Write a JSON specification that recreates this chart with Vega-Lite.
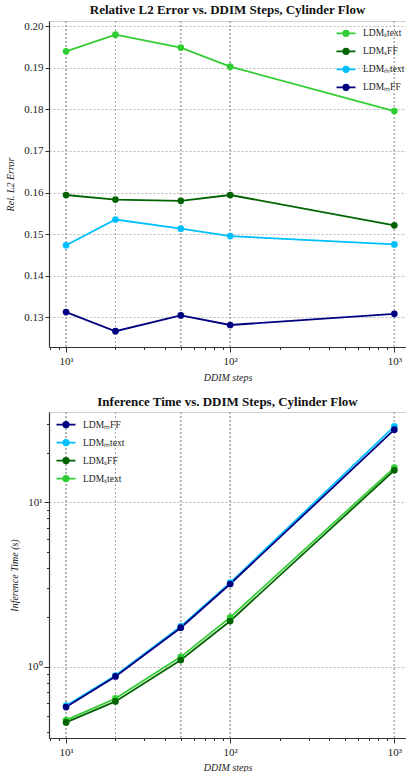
{
  "$schema": "https://vega.github.io/schema/vega-lite/v6.json",
  "autosize": {"type": "pad"},
  "padding": {"left": 5, "top": 3, "right": 0, "bottom": 0},
  "background": "white",
  "config": {
    "font": "Liberation Serif",
    "view": {"stroke": "#d0d0d0"},
    "title": {"font": "Liberation Serif", "fontSize": 13, "fontWeight": "bold", "color": "#111", "offset": 3},
    "axis": {
      "labelFont": "Liberation Serif", "labelFontSize": 11, "labelColor": "#222",
      "titleFont": "Liberation Serif", "titleFontStyle": "italic", "titleFontWeight": "normal",
      "titleFontSize": 10, "titleColor": "#222",
      "domainColor": "#333", "domainWidth": 1.2, "tickColor": "#333",
      "gridColor": "#a8a8a8", "gridDash": [2, 2], "gridWidth": 0.8,
      "labelFlush": false, "labelOverlap": false
    },
    "legend": {
      "labelFont": "Liberation Serif", "labelFontSize": 9.5, "labelColor": "#222",
      "symbolType": "M-1.9,0H-0.55M0.55,0H1.9M-0.55,0A0.55,0.55,0,1,1,0.55,0A0.55,0.55,0,1,1,-0.55,0Z",
      "symbolSize": 100, "symbolStrokeWidth": 1.8, "labelOffset": 11, "rowPadding": 4,
      "padding": 0, "title": null
    }
  },
  "datasets": {
    "d": [
      {"steps": 10, "model": "LDMₛtext", "error": 0.1940, "time": 0.474},
      {"steps": 10, "model": "LDMₛFF", "error": 0.1594, "time": 0.459},
      {"steps": 10, "model": "LDMₘtext", "error": 0.1473, "time": 0.580},
      {"steps": 10, "model": "LDMₘFF", "error": 0.1312, "time": 0.569},
      {"steps": 20, "model": "LDMₛtext", "error": 0.1980, "time": 0.642},
      {"steps": 20, "model": "LDMₛFF", "error": 0.1583, "time": 0.616},
      {"steps": 20, "model": "LDMₘtext", "error": 0.1535, "time": 0.885},
      {"steps": 20, "model": "LDMₘFF", "error": 0.1266, "time": 0.874},
      {"steps": 50, "model": "LDMₛtext", "error": 0.1949, "time": 1.15},
      {"steps": 50, "model": "LDMₛFF", "error": 0.1580, "time": 1.10},
      {"steps": 50, "model": "LDMₘtext", "error": 0.1513, "time": 1.76},
      {"steps": 50, "model": "LDMₘFF", "error": 0.1304, "time": 1.73},
      {"steps": 100, "model": "LDMₛtext", "error": 0.1903, "time": 2.00},
      {"steps": 100, "model": "LDMₛFF", "error": 0.1594, "time": 1.90},
      {"steps": 100, "model": "LDMₘtext", "error": 0.1495, "time": 3.25},
      {"steps": 100, "model": "LDMₘFF", "error": 0.1281, "time": 3.19},
      {"steps": 1000, "model": "LDMₛtext", "error": 0.1796, "time": 16.3},
      {"steps": 1000, "model": "LDMₛFF", "error": 0.1521, "time": 15.7},
      {"steps": 1000, "model": "LDMₘtext", "error": 0.1475, "time": 29.0},
      {"steps": 1000, "model": "LDMₘFF", "error": 0.1308, "time": 27.7}
    ]
  },
  "spacing": 65,
  "bounds": "flush",
  "resolve": {"scale": {"color": "independent", "x": "independent", "y": "independent"}, "legend": {"color": "independent"}},
  "vconcat": [
    {
      "width": 357, "height": 326,
      "title": "Relative L2 Error vs. DDIM Steps, Cylinder Flow",
      "data": {"name": "d"},
      "encoding": {
        "x": {"field": "steps", "type": "quantitative",
          "scale": {"type": "log", "domain": [7.87, 1178], "nice": false},
          "axis": {"title": "DDIM steps", "grid": false,
            "values": [8, 9, 10, 20, 30, 40, 50, 60, 70, 80, 90, 100, 200, 300, 400, 500, 600, 700, 800, 900, 1000],
            "labelExpr": "datum.value == 10 ? '10¹' : datum.value == 100 ? '10²' : datum.value == 1000 ? '10³' : ''",
            "tickSize": {"condition": {"test": "datum.value == 10 || datum.value == 100 || datum.value == 1000", "value": 5}, "value": 2.5},
            "labelPadding": 3, "titlePadding": 6}}
      },
      "layer": [
        {"mark": {"type": "rule", "color": "#a8a8a8", "strokeDash": [2, 2], "strokeWidth": 0.8}, "encoding": {}},
        {
          "mark": {"type": "line", "strokeWidth": 1.8},
          "encoding": {
            "y": {"field": "error", "type": "quantitative",
              "scale": {"domain": [0.1228, 0.2013], "nice": false, "zero": false},
              "axis": {"title": "Rel. L2 Error", "values": [0.13, 0.14, 0.15, 0.16, 0.17, 0.18, 0.19, 0.20], "format": ".2f", "grid": true, "tickSize": 4, "titlePadding": 8}},
            "color": {"field": "model", "type": "nominal",
              "scale": {"domain": ["LDMₛtext", "LDMₛFF", "LDMₘtext", "LDMₘFF"], "range": ["#32cd32", "#006400", "#00bfff", "#000080"]},
              "legend": {"orient": "none", "legendX": 291, "legendY": 6.3}}
          }
        },
        {
          "mark": {"type": "point", "filled": true, "size": 45, "opacity": 1},
          "encoding": {
            "y": {"field": "error", "type": "quantitative"},
            "color": {"field": "model", "type": "nominal"}
          }
        }
      ]
    },
    {
      "width": 357, "height": 326,
      "title": "Inference Time vs. DDIM Steps, Cylinder Flow",
      "data": {"name": "d"},
      "encoding": {
        "x": {"field": "steps", "type": "quantitative",
          "scale": {"type": "log", "domain": [7.87, 1178], "nice": false},
          "axis": {"title": "DDIM steps", "grid": false,
            "values": [8, 9, 10, 20, 30, 40, 50, 60, 70, 80, 90, 100, 200, 300, 400, 500, 600, 700, 800, 900, 1000],
            "labelExpr": "datum.value == 10 ? '10¹' : datum.value == 100 ? '10²' : datum.value == 1000 ? '10³' : ''",
            "tickSize": {"condition": {"test": "datum.value == 10 || datum.value == 100 || datum.value == 1000", "value": 5}, "value": 2.5},
            "labelPadding": 3, "titlePadding": 5}}
      },
      "layer": [
        {"mark": {"type": "rule", "color": "#a8a8a8", "strokeDash": [2, 2], "strokeWidth": 0.8}, "encoding": {}},
        {
          "mark": {"type": "line", "strokeWidth": 1.8},
          "encoding": {
            "y": {"field": "time", "type": "quantitative",
              "scale": {"type": "log", "domain": [0.369, 35.5], "nice": false},
              "axis": {"title": "Inference Time (s)",
                "values": [0.4, 0.5, 0.6, 0.7, 0.8, 0.9, 1, 2, 3, 4, 5, 6, 7, 8, 9, 10, 20, 30],
                "labelExpr": "datum.value == 1 ? '10⁰' : datum.value == 10 ? '10¹' : ''",
                "tickSize": {"condition": {"test": "datum.value == 1 || datum.value == 10", "value": 5}, "value": 2.5},
                "grid": true,
                "gridOpacity": {"condition": {"test": "datum.value == 1 || datum.value == 10", "value": 1}, "value": 0},
                "titlePadding": 8}},
            "color": {"field": "model", "type": "nominal",
              "scale": {"domain": ["LDMₘFF", "LDMₘtext", "LDMₛFF", "LDMₛtext"], "range": ["#000080", "#00bfff", "#006400", "#32cd32"]},
              "legend": {"orient": "none", "legendX": 11, "legendY": 6.6}}
          }
        },
        {
          "mark": {"type": "point", "filled": true, "size": 45, "opacity": 1},
          "encoding": {
            "y": {"field": "time", "type": "quantitative"},
            "color": {"field": "model", "type": "nominal"}
          }
        }
      ]
    }
  ]
}
